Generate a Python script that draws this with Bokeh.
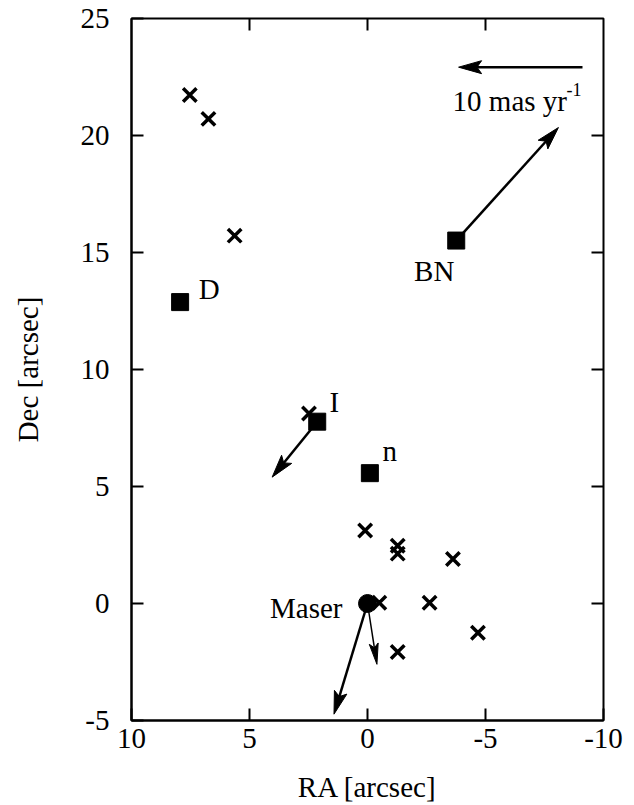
import math
from bokeh.plotting import figure
from bokeh.models import Range1d, FixedTicker, Label, ColumnDataSource
from bokeh.core.properties import value
from bokeh.embed import file_html
from bokeh.resources import INLINE

# ---- data (arcsec) ----
x_lim = [10, -10]
y_lim = [-5, 25]
ticks_x = [10, 5, 0, -5, -10]
ticks_y = [-5, 0, 5, 10, 15, 20, 25]

cross_ra = [7.53, 6.74, 5.63, 2.48, 0.10, -1.28, -1.28, -3.62, -0.50, -2.63, -4.68, -1.28]
cross_dec = [21.73, 20.71, 15.72, 8.12, 3.12, 2.47, 2.13, 1.90, 0.03, 0.03, -1.25, -2.07]

src_names = ["D", "BN", "I", "n"]
src_ra = [7.94, -3.76, 2.13, -0.10]
src_dec = [12.88, 15.51, 7.77, 5.57]

maser_ra = [0.0]
maser_dec = [0.0]

# proper-motion arrows: start (ra, dec) and displacement (dra, ddec)
pm_ra0 = [-3.76, 2.13, 0.0, 0.0, -9.11]
pm_dec0 = [15.51, 7.77, 0.0, 0.0, 22.92]
pm_dra = [-4.33, 1.91, 1.42, -0.40, 5.25]
pm_ddec = [4.83, -2.37, -4.73, -2.60, 0.0]
pm_width = [2.5, 2.5, 2.5, 1.5, 2.5]

FONT = "Liberation Serif"
FS = "29px"

W, H = 626, 805
ML, MR, MT, MB = 131, 23, 18, 83
FW, FH = W - ML - MR, H - MT - MB
sx = FW / abs(x_lim[1] - x_lim[0])
sy = FH / abs(y_lim[1] - y_lim[0])

p = figure(width=W, height=H, output_backend="svg", toolbar_location=None,
           x_range=Range1d(*x_lim), y_range=Range1d(*y_lim),
           min_border_left=ML, min_border_right=MR, min_border_top=MT, min_border_bottom=MB)
p.grid.visible = False
p.outline_line_color = "black"
p.outline_line_width = 2
p.background_fill_color = "white"
p.border_fill_color = "white"

for ax, ticks in ((p.xaxis[0], ticks_x), (p.yaxis[0], ticks_y)):
    ax.ticker = FixedTicker(ticks=ticks)
    ax.major_label_overrides = {t: str(t) for t in ticks}
    ax.major_tick_in = 12
    ax.major_tick_out = 0
    ax.minor_tick_line_color = None
    ax.major_tick_line_width = 2
    ax.major_tick_line_color = "black"
    ax.axis_line_width = 2
    ax.axis_line_color = "black"
    ax.major_label_text_font = FONT
    ax.major_label_text_font_size = FS
    ax.major_label_text_color = "black"
    ax.axis_label_text_font = FONT
    ax.axis_label_text_font_style = "normal"
    ax.axis_label_text_font_size = FS
    ax.axis_label_text_color = "black"
p.xaxis[0].axis_label = "RA [arcsec]"
p.yaxis[0].axis_label = "Dec [arcsec]"
p.xaxis[0].major_label_standoff = 8
p.xaxis[0].axis_label_standoff = 20
p.yaxis[0].major_label_standoff = 22
p.yaxis[0].axis_label_standoff = 34

# mirrored inward ticks on top and right edges (clipped to the frame)
p.scatter(ticks_x[1:-1], [y_lim[1]] * (len(ticks_x) - 2), marker="dash", angle=math.pi / 2,
          size=24, line_width=2, line_color="black")
p.scatter([x_lim[1]] * (len(ticks_y) - 2), ticks_y[1:-1], marker="dash",
          size=24, line_width=2, line_color="black")

# crosses
p.scatter(cross_ra, cross_dec, marker="x", size=19, line_width=3.5, line_color="black")

# sources (squares) + labels
src = ColumnDataSource(dict(x=src_ra, y=src_dec, name=src_names,
                            xo=[29, -22, 17, 20], yo=[-13, 30, -20, -22]))
p.scatter("x", "y", source=src, marker="square", size=17, fill_color="black", line_color="black")
p.text("x", "y", text="name", source=src, x_offset="xo", y_offset="yo",
       text_font=value(FONT), text_font_size=FS, text_align="center", text_baseline="middle",
       text_color="black")

# maser
p.scatter(maser_ra, maser_dec, marker="circle", size=18, fill_color="black", line_color="black")
p.text(maser_ra, maser_dec, text=["Maser"], x_offset=-25, y_offset=4,
       text_font=value(FONT), text_font_size=FS, text_align="right", text_baseline="middle",
       text_color="black")

# arrows: shaft + notched filled head (head built in pixel space)
x0s, y0s, x1s, y1s, hx, hy = [], [], [], [], [], []
for x0, y0, dx, dy, lw in zip(pm_ra0, pm_dec0, pm_dra, pm_ddec, pm_width):
    L, w = (23, 6.5) if lw > 2 else (21, 4.5)
    px, py = dx * sx, dy * sy
    n = math.hypot(px, py)
    ux, uy = px / n, py / n
    vx, vy = -uy, ux
    tx, ty = x0 + dx, y0 + dy
    pts = [(0, 0), (-L * ux + w * vx, -L * uy + w * vy), (-0.8 * L * ux, -0.8 * L * uy),
           (-L * ux - w * vx, -L * uy - w * vy)]
    hx.append([tx + a / sx for a, b in pts])
    hy.append([ty + b / sy for a, b in pts])
    x0s.append(x0); y0s.append(y0)
    x1s.append(tx - 0.7 * L * ux / sx); y1s.append(ty - 0.7 * L * uy / sy)
p.segment(x0s, y0s, x1s, y1s, line_width=pm_width, line_color="black")
p.patches(hx, hy, fill_color="black", line_color="black", line_width=1)

# scale-arrow caption
sc_x, sc_y = pm_ra0[-1], pm_dec0[-1]
p.add_layout(Label(x=sc_x + pm_dra[-1], y=sc_y, x_offset=-6, y_offset=-34,
                   text="10 mas yr", text_font=FONT, text_font_size=FS,
                   text_align="left", text_baseline="alphabetic", text_color="black"))
p.add_layout(Label(x=sc_x, y=sc_y, x_offset=-16, y_offset=-22,
                   text="-1", text_font=FONT, text_font_size="18px",
                   text_align="left", text_baseline="alphabetic", text_color="black"))

open("out.html", "w").write(file_html(p, INLINE))
